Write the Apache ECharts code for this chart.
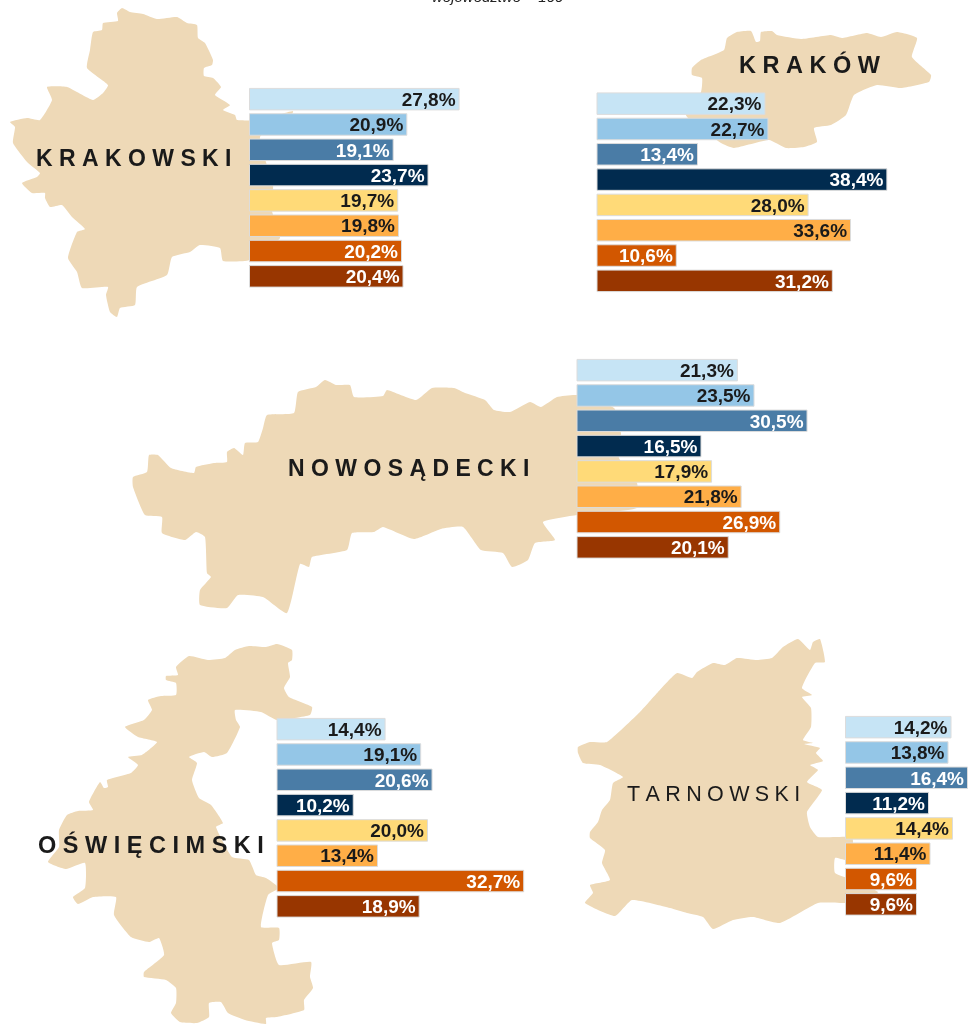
<!DOCTYPE html>
<html>
<head>
<meta charset="utf-8">
<title>Regiony</title>
<style>
html, body { margin: 0; padding: 0; background: #fff; }
#main { width: 968px; height: 1024px; }
</style>
<script src="https://cdn.jsdelivr.net/npm/echarts@6/dist/echarts.min.js"></script>
</head>
<body>
<div id="main"></div>
<script>
// dane
var categories = ['1', '2', '3', '4', '5', '6', '7', '8'];
var krakowski = [27.8, 20.9, 19.1, 23.7, 19.7, 19.8, 20.2, 20.4];
var krakow = [22.3, 22.7, 13.4, 38.4, 28.0, 33.6, 10.6, 31.2];
var nowosadecki = [21.3, 23.5, 30.5, 16.5, 17.9, 21.8, 26.9, 20.1];
var oswiecimski = [14.4, 19.1, 20.6, 10.2, 20.0, 13.4, 32.7, 18.9];
var tarnowski = [14.2, 13.8, 16.4, 11.2, 14.4, 11.4, 9.6, 9.6];

var barColors = ['#C6E4F5', '#94C6E7', '#4A7CA6', '#012B4F', '#FFDA78', '#FFAE47', '#D25700', '#983600'];
var labelColors = ['#1a1a1a', '#1a1a1a', '#fff', '#fff', '#1a1a1a', '#1a1a1a', '#fff', '#fff'];

// zarysy regionow (tlo, px)
var shapeKrakowski = [[122,8],[130,12],[143,14],[157,19],[177,17],[187,23],[197,25],[198,38],[205,43],[213,60],[212,65],[204,68],[204,76],[213,78],[221,87],[215,95],[230,105],[223,110],[235,115],[237,120],[260,120],[293,111],[290,118],[260,137],[273,185],[272,211],[280,238],[250,260],[223,261],[220,248],[200,245],[190,252],[172,257],[167,275],[137,287],[135,305],[120,308],[117,317],[110,312],[106,295],[108,287],[82,288],[77,272],[68,258],[77,232],[85,229],[72,217],[62,205],[50,207],[45,198],[45,193],[32,193],[22,183],[37,177],[40,173],[28,163],[13,143],[15,127],[10,122],[27,118],[40,120],[52,100],[47,87],[67,87],[93,100],[103,93],[108,85],[87,68],[90,50],[93,32],[102,30],[103,23],[118,21],[117,13]];
var shapeKrakow = [[692,68],[701,60],[724,50],[727,38],[737,32],[751,31],[756,42],[760,41],[761,32],[772,31],[777,35],[801,39],[831,35],[842,38],[867,33],[881,37],[897,32],[917,38],[912,57],[931,75],[929,82],[901,88],[877,85],[854,95],[846,115],[831,125],[814,128],[817,142],[804,147],[786,148],[769,140],[734,148],[721,143],[690,120],[686,115],[701,92],[702,78],[692,75]];
var shapeNowosadecki = [[133,477],[147,472],[149,455],[158,455],[171,468],[194,473],[196,467],[214,463],[227,462],[227,452],[234,448],[243,455],[245,443],[258,442],[263,428],[267,415],[294,413],[298,392],[316,387],[325,380],[336,385],[350,385],[354,397],[383,396],[387,390],[416,400],[432,388],[454,388],[465,393],[485,400],[494,410],[510,412],[530,402],[541,407],[557,397],[577,395],[614,408],[621,433],[619,458],[637,483],[637,508],[577,515],[543,522],[555,540],[535,543],[528,560],[512,567],[503,553],[481,550],[463,527],[441,529],[414,539],[383,527],[374,532],[352,533],[347,550],[312,557],[309,567],[300,564],[287,613],[263,597],[238,595],[227,608],[200,605],[200,590],[211,577],[207,573],[205,537],[196,532],[185,540],[162,533],[162,517],[145,515],[133,487]];
var shapeOswiecimski = [[277,644],[292,650],[292,660],[288,663],[290,677],[284,688],[289,697],[312,707],[310,715],[277,720],[261,712],[235,710],[236,720],[240,727],[227,753],[212,757],[204,752],[189,757],[197,763],[192,780],[199,798],[211,805],[223,823],[216,827],[232,857],[249,860],[256,875],[266,878],[279,888],[268,895],[261,927],[279,928],[279,940],[272,943],[279,965],[311,962],[310,977],[313,988],[304,1000],[304,1010],[277,1017],[266,1018],[266,1024],[245,1020],[228,1013],[221,1002],[209,1003],[209,1017],[197,1023],[180,1022],[171,1013],[176,1003],[176,988],[166,980],[144,977],[144,972],[164,955],[159,938],[149,942],[131,937],[114,915],[116,897],[93,897],[78,904],[73,897],[85,888],[85,863],[66,869],[48,862],[59,847],[59,830],[67,815],[78,811],[93,810],[89,802],[100,782],[104,788],[108,787],[107,780],[131,773],[138,765],[128,757],[142,755],[157,742],[138,737],[125,727],[144,720],[152,710],[148,700],[161,696],[176,695],[176,683],[166,680],[166,676],[178,675],[176,667],[189,656],[208,660],[225,658],[235,650],[249,646],[266,647]];
var shapeTarnowski = [[578,747],[590,742],[607,742],[640,712],[658,692],[677,673],[692,678],[697,672],[713,663],[725,665],[737,658],[757,660],[772,658],[783,647],[798,639],[810,650],[813,642],[820,639],[825,662],[815,663],[802,688],[812,695],[802,697],[811,708],[811,727],[803,740],[813,743],[804,744],[820,748],[816,753],[823,761],[810,765],[818,770],[807,782],[822,790],[807,812],[810,827],[818,837],[852,837],[853,843],[847,860],[835,858],[835,873],[853,880],[878,892],[870,897],[847,903],[818,903],[780,923],[753,917],[733,920],[713,929],[703,917],[687,913],[670,908],[632,900],[615,916],[585,903],[593,893],[590,885],[610,880],[602,863],[605,850],[590,838],[590,832],[598,822],[602,810],[610,800],[613,783],[623,777],[600,765],[583,763],[578,753]];

var shapeColor = '#EED9B7';
var barFont = 'Liberation Sans';

// kazdy panel: gdzie siedzi siatka
var panels = [
	{ values: krakowski, left: 249, top: 86.5, width: 303, max: 40 },
	{ values: krakow, left: 596.5, top: 91, width: 303, max: 40 },
	{ values: nowosadecki, left: 576.5, top: 357.5, width: 303, max: 40 },
	{ values: oswiecimski, left: 276.5, top: 716.5, width: 303, max: 40 },
	{ values: tarnowski, left: 845, top: 714.5, width: 123, max: 16.4 }
];

var grids = [], xAxes = [], yAxes = [], series = [];
for (var i = 0; i < panels.length; i++) {
	var p = panels[i];
	grids.push({ left: p.left, top: p.top, width: p.width, height: 202.5 });
	xAxes.push({ type: 'value', gridIndex: i, min: 0, max: p.max, show: false });
	yAxes.push({ type: 'category', gridIndex: i, inverse: true, data: categories, show: false });
	var items = [];
	for (var j = 0; j < p.values.length; j++) {
		items.push({
			value: p.values[j],
			itemStyle: { color: barColors[j] },
			label: { color: labelColors[j] }
		});
	}
	series.push({
		type: 'bar',
		xAxisIndex: i,
		yAxisIndex: i,
		barWidth: 22.5,
		z: 3,
		silent: true,
		animation: false,
		itemStyle: { borderColor: '#DCDCDC', borderWidth: 1 },
		label: {
			show: true,
			position: 'insideRight',
			distance: 4,
			offset: [0, 1.5],
			fontFamily: barFont,
			fontWeight: 'bold',
			fontSize: 19,
			formatter: function (params) {
				return params.value.toFixed(1).replace('.', ',') + '%';
			}
		},
		data: items
	});
}

function region(points) {
	return {
		type: 'polygon',
		z: 0,
		silent: true,
		shape: { points: points, smooth: 0.15 },
		style: { fill: shapeColor }
	};
}

function regionName(text, x, y, size, weight) {
	return {
		type: 'text',
		z: 5,
		silent: true,
		style: {
			x: x,
			y: y,
			text: text,
			fill: '#1a1a1a',
			fontFamily: barFont,
			fontSize: size,
			fontWeight: weight,
			textVerticalAlign: 'middle'
		}
	};
}

var myChart = echarts.init(document.getElementById('main'));
myChart.setOption({
	animation: false,
	backgroundColor: '#fff',
	grid: grids,
	xAxis: xAxes,
	yAxis: yAxes,
	series: series,
	graphic: [
		region(shapeKrakowski),
		region(shapeKrakow),
		region(shapeNowosadecki),
		region(shapeOswiecimski),
		region(shapeTarnowski),
		regionName('K R A K O W S K I', 36, 160, 23, 'bold'),
		regionName('K R A K Ó W', 739, 67, 23.5, 'bold'),
		regionName('N O W O S Ą D E C K I', 288, 470, 23, 'bold'),
		regionName('O Ś W I Ę C I M S K I', 38, 847, 23.5, 'bold'),
		regionName('T\u2005A\u2005R\u2005N\u2005O\u2005W\u2005S\u2005K\u2005I', 627, 795, 21.5, 'normal'),
		{
			type: 'text',
			z: 5,
			silent: true,
			style: {
				x: 432,
				y: -10,
				text: 'województwo = 100',
				fill: '#222',
				fontFamily: barFont,
				fontStyle: 'italic',
				fontSize: 15
			}
		}
	]
});
</script>
</body>
</html>
